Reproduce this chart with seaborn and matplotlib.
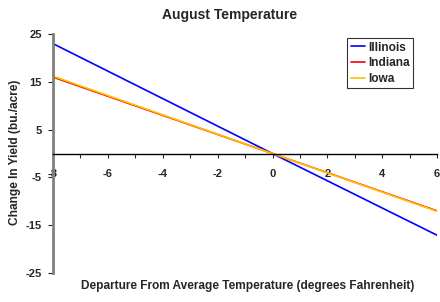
import pandas as pd
import seaborn as sns
import matplotlib.pyplot as plt

# departure from average temperature (deg F) and yield change (bu/acre)
temps = [-8, 0, 6]
illinois = [23.0, 0.0, -17.1]
indiana = [16.0, 0.0, -12.0]
iowa = [16.2, 0.0, -12.1]

states = ["Illinois", "Indiana", "Iowa"]
colors = {"Illinois": "#0000ff", "Indiana": "#ff0000", "Iowa": "#ffc000"}

df = pd.concat([
    pd.DataFrame({"temp": temps, "change": vals, "state": name})
    for name, vals in zip(states, [illinois, indiana, iowa])
])

sns.set_style("white")
plt.rcParams["font.family"] = ["Liberation Sans", "DejaVu Sans"]
plt.rcParams["font.weight"] = "bold"
plt.rcParams["axes.unicode_minus"] = False

fig = plt.figure(figsize=(4.4, 3.02), dpi=100)
ax = fig.add_axes([0.1205, 0.096, 0.873, 0.791])

sns.lineplot(data=df, x="temp", y="change", hue="state", palette=colors,
             linewidth=1.2, ax=ax)

ax.set_xlim(-8, 6)
ax.set_ylim(-25, 25)

ax.spines["top"].set_visible(False)
ax.spines["right"].set_visible(False)
ax.spines["left"].set_color("#808080")
ax.spines["left"].set_linewidth(2)
ax.spines["bottom"].set_position(("data", 0))
ax.spines["bottom"].set_color("black")
ax.spines["bottom"].set_linewidth(1)

ax.set_xticks(range(-8, 7))
ax.set_xticklabels([str(t) if t % 2 == 0 else "" for t in range(-8, 7)])
ax.set_yticks([25, 15, 5, -5, -15, -25])
ax.tick_params(axis="x", direction="out", length=3, width=0.8, pad=8,
               labelsize=8, bottom=True)
ax.tick_params(axis="y", direction="out", length=3.5, width=0.8, pad=4.5,
               labelsize=8, left=True)
for lab in ax.get_xticklabels() + ax.get_yticklabels():
    lab.set_fontweight("bold")

fig.text(230 / 440, 1 - 15 / 302, "August Temperature", fontsize=10,
         fontweight="bold", ha="center", va="center")

ax.set_xlabel("Departure From Average Temperature (degrees Fahrenheit)",
              fontsize=8.6, fontweight="bold")
ax.set_ylabel("Change In Yield (bu./acre)", fontsize=8.6, fontweight="bold")
ax.xaxis.set_label_coords(0.508, -0.054)
ax.xaxis.label.set_va("center")
ax.yaxis.set_label_coords(-0.099, 0.504)
ax.yaxis.label.set_va("center")

leg = ax.legend(loc="upper right", bbox_to_anchor=(413 / 440, 1 - 38 / 302),
                bbox_transform=fig.transFigure, fontsize=8.6,
                frameon=True, fancybox=False, handlelength=1.2,
                handletextpad=0.2, borderpad=0.3, labelspacing=0.3,
                borderaxespad=0)
leg.get_frame().set_edgecolor("black")
leg.get_frame().set_linewidth(0.8)
for t in leg.get_texts():
    t.set_fontweight("bold")

fig.savefig("out.png", dpi=100)
